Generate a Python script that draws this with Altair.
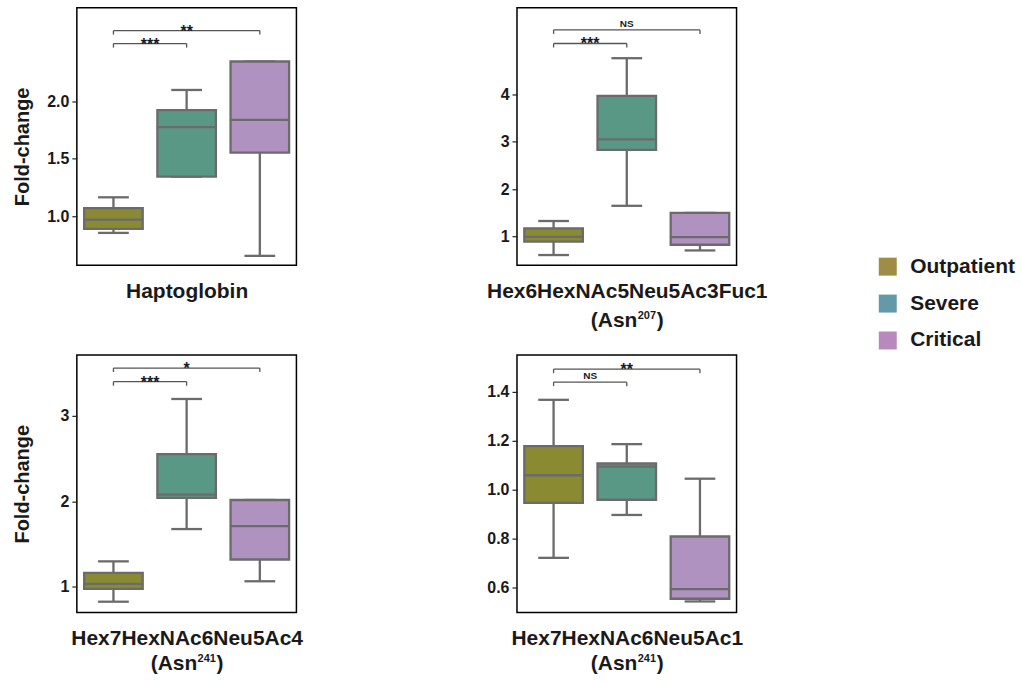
import altair as alt
import pandas as pd

groups = ["Outpatient", "Severe", "Critical"]
box_colors = ["#8a8a33", "#5a9886", "#b092c0"]
legend_colors = ["#9f8d45", "#6399a8", "#b889bc"]

# Box statistics per glycan: lower whisker, Q1, median, Q3, upper whisker
hapto_low = [0.855, 1.345, 0.655]
hapto_q1 = [0.890, 1.345, 1.554]
hapto_med = [0.970, 1.777, 1.840]
hapto_q3 = [1.070, 1.925, 2.348]
hapto_high = [1.165, 2.100, 2.348]

g207_low = [0.613, 1.650, 0.710]
g207_q1 = [0.895, 2.830, 0.830]
g207_med = [0.995, 3.050, 0.990]
g207_q3 = [1.175, 3.965, 1.500]
g207_high = [1.330, 4.760, 1.500]

g241a_low = [0.826, 1.676, 1.065]
g241a_q1 = [0.977, 2.040, 1.320]
g241a_med = [1.035, 2.080, 1.710]
g241a_q3 = [1.163, 2.553, 2.016]
g241a_high = [1.298, 3.198, 2.016]

g241b_low = [0.723, 0.898, 0.545]
g241b_q1 = [0.947, 0.960, 0.556]
g241b_med = [1.060, 1.095, 0.595]
g241b_q3 = [1.179, 1.108, 0.810]
g241b_high = [1.368, 1.187, 1.046]

# Significance brackets: compared pairs, bracket heights, labels
pairs = [("Outpatient", "Severe"), ("Outpatient", "Critical")]
hapto_br_y = [2.504, 2.617]
hapto_br_lab = ["***", "**"]
g207_br_y = [5.07, 5.356]
g207_br_lab = ["***", "NS"]
g241a_br_y = [3.40, 3.56]
g241a_br_lab = ["***", "*"]
g241b_br_y = [1.44, 1.493]
g241b_br_lab = ["NS", "**"]

FONT = "Liberation Sans"
TEXT = "#1a1a1a"
GRAY = "#6b6b6b"
W, H = 220, 258


def site_label(site, below):
    """Second title line '(Asn<sup>site</sup>)' drawn under the plot."""
    row = pd.DataFrame({"pre": ["(Asn"], "sup": [site], "post": [")"]})
    y = alt.value(H + below)
    common = dict(font=FONT, fontWeight="bold", color=TEXT,
                  baseline="alphabetic", align="left")
    pre = alt.Chart(row).mark_text(fontSize=21, dx=-36, **common).encode(
        x=alt.value(W / 2), y=y, text="pre:N")
    sup = alt.Chart(row).mark_text(fontSize=11, dx=11, dy=-8, **common).encode(
        x=alt.value(W / 2), y=y, text="sup:N")
    post = alt.Chart(row).mark_text(fontSize=21, dx=30, **common).encode(
        x=alt.value(W / 2), y=y, text="post:N")
    return [pre, sup, post]


def panel(low, q1, med, q3, high, br_y, br_lab, domain, ticks, fmt,
          xtitle, site=None, site_below=60, ytitle=None, ytitle_y=None,
          with_legend=False):
    df = pd.DataFrame({"group": groups, "idx": list(range(len(groups))),
                       "low": low, "q1": q1, "med": med, "q3": q3, "high": high})
    bdf = pd.DataFrame({"start": [groups.index(a) for a, b in pairs],
                        "end": [groups.index(b) for a, b in pairs],
                        "y": br_y, "label": br_lab})

    xscale = alt.Scale(domain=[-0.5, 2.5], nice=False, zero=False)
    yscale = alt.Scale(domain=domain, nice=False, zero=False)
    xaxis = alt.Axis(labels=False, ticks=False, domain=False, grid=False,
                     title=xtitle, titleFont=FONT, titleFontSize=21,
                     titleFontWeight="bold", titleColor=TEXT, titlePadding=15,
                     minExtent=0, maxExtent=0)
    yargs = dict(values=ticks, format=fmt, domain=False, grid=False,
                 tickColor="#222222", tickSize=5, tickWidth=1.2,
                 labelFont=FONT, labelFontSize=16, labelFontWeight="bold",
                 labelColor=TEXT, labelPadding=3, minExtent=34, maxExtent=34)
    if ytitle:
        yargs.update(title=ytitle, titleFont=FONT, titleFontSize=20,
                     titleFontWeight="bold", titleColor=TEXT, titlePadding=10)
        if ytitle_y is not None:
            yargs.update(titleY=ytitle_y)
    else:
        yargs.update(title=None)
    yaxis = alt.Axis(**yargs)

    def X(f):
        return alt.X(f, type="quantitative", scale=xscale, axis=xaxis)

    def Y(f):
        return alt.Y(f, type="quantitative", scale=yscale, axis=yaxis)

    base = alt.Chart(df).transform_calculate(
        left="datum.idx - 0.4", right="datum.idx + 0.4",
        capl="datum.idx - 0.21", capr="datum.idx + 0.21")

    whisker = base.mark_rule(color=GRAY, strokeWidth=2.3).encode(
        x=X("idx"), y=Y("low"), y2="high:Q")
    cap_lo = base.mark_rule(color=GRAY, strokeWidth=2.3).encode(
        x=X("capl"), x2="capr:Q", y=Y("low"))
    cap_hi = base.mark_rule(color=GRAY, strokeWidth=2.3).encode(
        x=X("capl"), x2="capr:Q", y=Y("high"))
    box = base.mark_bar(stroke=GRAY, strokeWidth=2.3).encode(
        x=X("left"), x2="right:Q", y=Y("q1"), y2="q3:Q",
        fill=alt.Fill("group:N", scale=alt.Scale(domain=groups, range=box_colors),
                      legend=None))
    median = base.mark_rule(color=GRAY, strokeWidth=2.3).encode(
        x=X("left"), x2="right:Q", y=Y("med"))

    bbase = alt.Chart(bdf).transform_calculate(mid="(datum.start + datum.end) / 2")
    br_line = bbase.mark_rule(color="#555555", strokeWidth=1.3).encode(
        x=X("start"), x2="end:Q", y=Y("y"))
    br_tip_a = bbase.mark_rule(color="#555555", strokeWidth=1.3, y2Offset=4).encode(
        x=X("start"), y=Y("y"), y2="y:Q")
    br_tip_b = bbase.mark_rule(color="#555555", strokeWidth=1.3, y2Offset=4).encode(
        x=X("end"), y=Y("y"), y2="y:Q")
    star_txt = bbase.transform_filter("datum.label != 'NS'").mark_text(
        font=FONT, fontSize=16, fontWeight="bold", color=TEXT,
        baseline="alphabetic", dy=6).encode(x=X("mid"), y=Y("y"), text="label:N")
    ns_txt = bbase.transform_filter("datum.label == 'NS'").mark_text(
        font=FONT, fontSize=10, fontWeight="bold", color=TEXT,
        baseline="alphabetic", dy=-3).encode(x=X("mid"), y=Y("y"), text="label:N")

    layers = [whisker, cap_lo, cap_hi, box, median,
              br_line, br_tip_a, br_tip_b, star_txt, ns_txt]
    if site:
        layers += site_label(site, site_below)
    if with_legend:
        key = base.mark_square(opacity=0, size=10).encode(
            x=X("idx"), y=Y("med"),
            color=alt.Color("group:N",
                            scale=alt.Scale(domain=groups, range=legend_colors),
                            legend=alt.Legend(
                                title=None, orient="none", legendX=361, legendY=249,
                                symbolType="square", symbolSize=324, symbolOpacity=1,
                                symbolStrokeWidth=0, labelFont=FONT, labelFontSize=21,
                                labelFontWeight="bold", labelColor=TEXT,
                                labelOffset=12, rowPadding=15)))
        layers.append(key)
    return alt.layer(*layers).properties(width=W, height=H)


p1 = panel(hapto_low, hapto_q1, hapto_med, hapto_q3, hapto_high,
           hapto_br_y, hapto_br_lab, [0.574, 2.817], [1.0, 1.5, 2.0], ".1f",
           "Haptoglobin", ytitle="Fold-change", ytitle_y=139)
p2 = panel(g207_low, g207_q1, g207_med, g207_q3, g207_high,
           g207_br_y, g207_br_lab, [0.40, 5.825], [1, 2, 3, 4], "d",
           "Hex6HexNAc5Neu5Ac3Fuc1", site="207", site_below=62, with_legend=True)
p3 = panel(g241a_low, g241a_q1, g241a_med, g241a_q3, g241a_high,
           g241a_br_y, g241a_br_lab, [0.70, 3.713], [1, 2, 3], "d",
           "Hex7HexNAc6Neu5Ac4", site="241", site_below=58, ytitle="Fold-change")
p4 = panel(g241b_low, g241b_q1, g241b_med, g241b_q3, g241b_high,
           g241b_br_y, g241b_br_lab, [0.50, 1.551], [0.6, 0.8, 1.0, 1.2, 1.4], ".1f",
           "Hex7HexNAc6Neu5Ac1", site="241", site_below=58)

chart = alt.concat(
    p1, p2, p3, p4, columns=2, spacing={"row": 90, "column": 221}, bounds="flush"
).resolve_scale(
    color="independent"
).properties(
    background="white",
    padding={"left": 12, "top": 6, "right": 5, "bottom": 5},
).configure_view(stroke="black", strokeWidth=1.5)

chart.save("out.html", embed_options={"renderer": "svg", "actions": False})
